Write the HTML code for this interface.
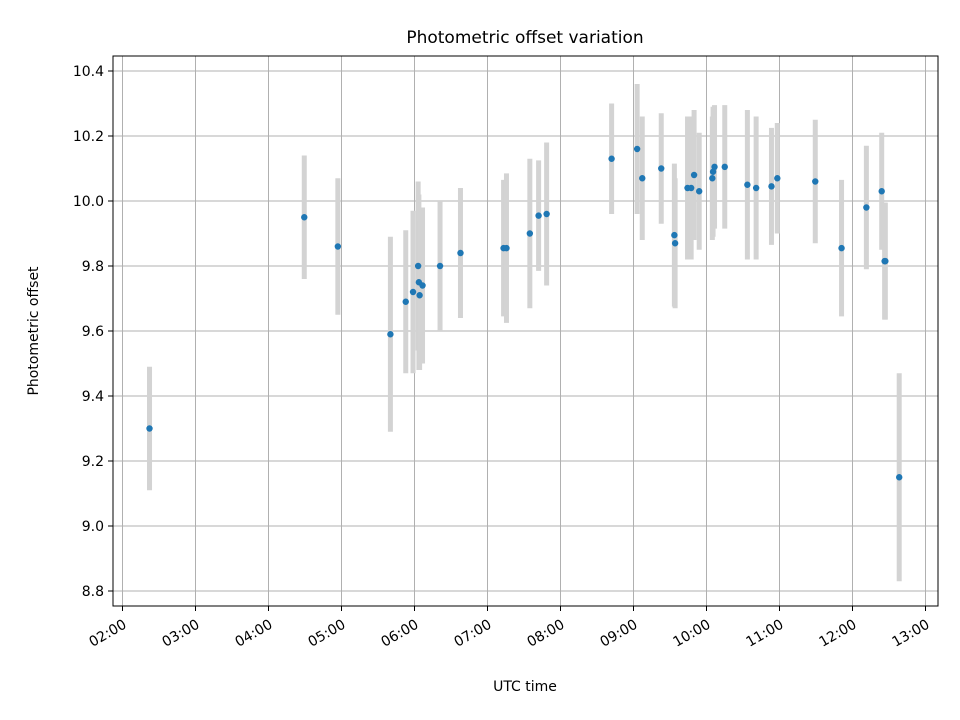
<!DOCTYPE html>
<html><head><meta charset="utf-8"><style>
body{margin:0;background:#fff}
svg{display:block;font-family:"DejaVu Sans","Liberation Sans",sans-serif}
</style></head><body>
<svg id="chart" width="960" height="720" viewBox="0 0 960 720">
<rect width="960" height="720" fill="#fff"/>
<g id="grid"></g>
<g id="errs"></g>
<g id="pts"></g>
<rect x="113" y="56" width="825" height="550" fill="none" stroke="#000" stroke-width="1"/>
<g id="axes"></g>
<text x="525" y="43" text-anchor="middle" font-size="17">Photometric offset variation</text>
<text x="525" y="691" text-anchor="middle" font-size="14">UTC time</text>
<text transform="translate(38,331) rotate(-90)" text-anchor="middle" font-size="14">Photometric offset</text>
</svg>
<script>
const hours=[2.37,4.49,4.95,5.67,5.88,5.98,6.05,6.06,6.07,6.11,6.35,6.63,7.22,7.26,7.58,7.70,7.81,8.70,9.05,9.12,9.38,9.56,9.57,9.74,9.79,9.83,9.90,10.08,10.09,10.11,10.25,10.56,10.68,10.89,10.97,11.49,11.85,12.19,12.40,12.44,12.45,12.64];
const offsets=[9.30,9.95,9.86,9.59,9.69,9.72,9.80,9.75,9.71,9.74,9.80,9.84,9.855,9.855,9.90,9.955,9.96,10.13,10.16,10.07,10.10,9.895,9.87,10.04,10.04,10.08,10.03,10.07,10.09,10.105,10.105,10.05,10.04,10.045,10.07,10.06,9.855,9.98,10.03,9.815,9.815,9.15];
const errors=[0.19,0.19,0.21,0.30,0.22,0.25,0.26,0.27,0.23,0.24,0.20,0.20,0.21,0.23,0.23,0.17,0.22,0.17,0.20,0.19,0.17,0.22,0.20,0.22,0.22,0.20,0.18,0.19,0.20,0.19,0.19,0.23,0.22,0.18,0.17,0.19,0.21,0.19,0.18,0.18,0.18,0.32];
const yTicks=[8.8,9.0,9.2,9.4,9.6,9.8,10.0,10.2,10.4];
const xTickHours=[2,3,4,5,6,7,8,9,10,11,12,13];
const xTickLabels=["02:00","03:00","04:00","05:00","06:00","07:00","08:00","09:00","10:00","11:00","12:00","13:00"];
const NS="http://www.w3.org/2000/svg";
const X=h=>122.5+(h-2)*73;
const Y=v=>71+(10.4-v)*325;
function mk(tag,attrs,parent){const e=document.createElementNS(NS,tag);for(const k in attrs)e.setAttribute(k,attrs[k]);parent.appendChild(e);return e;}
const grid=document.getElementById('grid'),axes=document.getElementById('axes'),errs=document.getElementById('errs'),pts=document.getElementById('pts');
yTicks.forEach(v=>{
 const y=Y(v);
 const g=mk('line',{x1:113,x2:938,y1:y,y2:y,stroke:'#b0b0b0','stroke-width':1},grid);
 
 
 mk('line',{x1:108,x2:113,y1:y,y2:y,stroke:'#000'},axes);
 const t=mk('text',{x:104,y:y+5,'text-anchor':'end','font-size':14},axes);
 t.textContent=v.toFixed(1);
 
 
});
xTickHours.forEach((h,i)=>{
 const x=X(h);
 const g=mk('line',{x1:x,x2:x,y1:56,y2:606,stroke:'#b0b0b0','stroke-width':1},grid);
 
 
 mk('line',{x1:x,x2:x,y1:606,y2:611,stroke:'#000'},axes);
 const t=mk('text',{x:0,y:0,'text-anchor':'end','font-size':14,transform:`translate(${x+5},${627}) rotate(-30)`},axes);
 t.textContent=xTickLabels[i];
 
 
});
hours.forEach((h,i)=>{
 const x=X(h);
 const b=mk('line',{x1:x,x2:x,y1:Y(offsets[i]+errors[i]),y2:Y(offsets[i]-errors[i]),stroke:'#d3d3d3','stroke-width':5},errs);
 
 
});
hours.forEach((h,i)=>{
 const c=mk('circle',{cx:X(h),cy:Y(offsets[i]),r:3.2,fill:'#1f77b4'},pts);
 
 
});
</script>
</body></html>
